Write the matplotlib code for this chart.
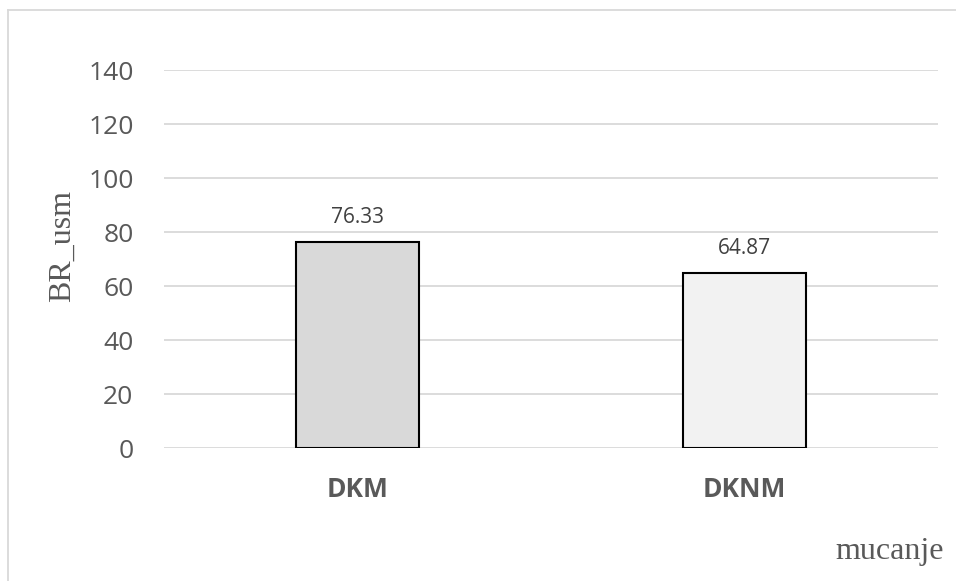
import matplotlib
matplotlib.use("Agg")
import matplotlib.pyplot as plt
from matplotlib.lines import Line2D

categories = ["DKM", "DKNM"]
values = [76.33, 64.87]
bar_colors = ["#d9d9d9", "#f2f2f2"]
yticks = [0, 20, 40, 60, 80, 100, 120, 140]
ylabel = "BR_usm"
xlabel = "mucanje"

W, H = 956, 581
fig = plt.figure(figsize=(W / 100, H / 100), dpi=100)
ax = fig.add_axes([164 / W, 1 - 448 / H, (938 - 164) / W, (448 - 70) / H])

x = [0, 1]
ax.bar(x, values, width=0.32, color=bar_colors, edgecolor="black", linewidth=1.5, zorder=3)
ax.set_xlim(-0.5, 1.5)
ax.set_ylim(0, 140)
ax.set_yticks(yticks)
ax.set_yticklabels([str(t) for t in yticks], fontsize=19, color="#595959", family="Open Sans")
ax.set_xticks(x)
ax.set_xticklabels(categories, fontsize=19, fontweight="bold", color="#595959", family="Open Sans")
ax.tick_params(axis="y", length=0, pad=22)
ax.tick_params(axis="x", length=0, pad=20)
ax.grid(axis="y", color="#d9d9d9", linewidth=1.3, zorder=0)
for s in ax.spines.values():
    s.set_visible(False)

for xi, v in zip(x, values):
    ax.annotate(f"{v:.2f}", (xi, v), xytext=(0, 10), textcoords="offset points",
                ha="center", va="bottom", fontsize=15, color="#404040", family="Open Sans")

fig.text(62 / W, 1 - 246 / H, ylabel, rotation=90, ha="center", va="center",
         fontsize=23, color="#595959", family="Liberation Serif")
fig.text(890 / W, 1 - 552 / H, xlabel, ha="center", va="center",
         fontsize=23, color="#595959", family="Liberation Serif")

# outer chart frame (top and left edges visible)
fig.add_artist(Line2D([8 / W, 8 / W], [0, 1 - 10 / H], transform=fig.transFigure,
                      color="#d9d9d9", linewidth=1.3))
fig.add_artist(Line2D([8 / W, 1], [1 - 10 / H, 1 - 10 / H], transform=fig.transFigure,
                      color="#d9d9d9", linewidth=1.3))

fig.savefig("out.png", dpi=100, facecolor="white")
